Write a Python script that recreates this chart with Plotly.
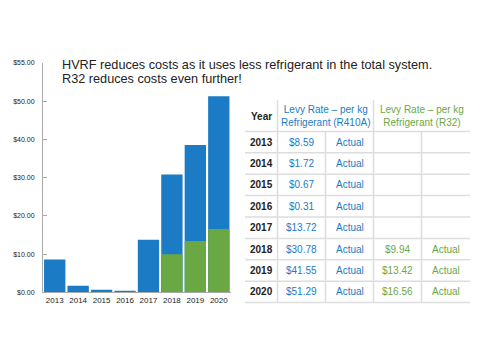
import plotly.graph_objects as go

years = ["2013", "2014", "2015", "2016", "2017", "2018", "2019", "2020"]
# bar heights as drawn in the chart
r410a_bar = [8.59, 1.72, 0.67, 0.31, 13.72, 30.78, 38.5, 51.29]
r32_bar = [None, None, None, None, None, 9.94, 13.42, 16.56]
# values printed in the table
r410a_rate = ["$8.59", "$1.72", "$0.67", "$0.31", "$13.72", "$30.78", "$41.55", "$51.29"]
r32_rate = ["", "", "", "", "", "$9.94", "$13.42", "$16.56"]
r410a_status = ["Actual"] * 8
r32_status = ["", "", "", "", "", "Actual", "Actual", "Actual"]
ytick_vals = [0, 10, 20, 30, 40, 50, 60]
ytick_text = ["$0.00", "$10.00", "$20.00", "$30.00", "$40.00", "$50.00", "$55.00"]
title_lines = ["HVRF reduces costs as it uses less refrigerant in the total system.",
               "R32 reduces costs even further!"]
hdr_year = "Year"
hdr_r410a = "Levy Rate – per kg<br>Refrigerant (R410A)"
hdr_r32 = "Levy Rate – per kg<br>Refrigerant (R32)"

W, H = 480, 362
BLUE = "#1b7bc4"
GREEN = "#6aa844"
GRID = "#dddddd"
FONT = "Liberation Sans, Arial, sans-serif"

def px(x):
    return x / W

def py(y):
    return 1 - y / H

fig = go.Figure()
fig.add_trace(go.Bar(x=years, y=r410a_bar, marker=dict(color=BLUE, line=dict(width=0)), name="R410A"))
fig.add_trace(go.Bar(x=years, y=r32_bar, marker=dict(color=GREEN, line=dict(width=0)), name="R32"))

shapes = []
annotations = []

def note(x, y, text, color, size=10, xanchor="center"):
    annotations.append(dict(x=px(x), y=py(y), xref="paper", yref="paper", text=text,
                            showarrow=False, xanchor=xanchor, yanchor="middle",
                            font=dict(family=FONT, size=size, color=color)))

# title
for i, t in enumerate(title_lines):
    note(60, 62 + 14 * i, t, "#222222", size=12.7, xanchor="left")

# table geometry
cols = [245, 277.5, 325.5, 373.5, 421.5, 470]
hy0, hy1 = 98, 130
rh = 21.8
nrows = len(years)
ybot = hy1 + rh * nrows

for i in range(nrows + 1):
    y = hy1 + rh * i
    shapes.append(dict(type="line", xref="paper", yref="paper", x0=px(cols[0]), x1=px(cols[-1]),
                       y0=py(y), y1=py(y), line=dict(color=GRID, width=1.5)))
for c in [cols[1], cols[3]]:
    shapes.append(dict(type="line", xref="paper", yref="paper", x0=px(c), x1=px(c),
                       y0=py(hy0), y1=py(ybot), line=dict(color=GRID, width=1.5)))
for c in [cols[2], cols[4]]:
    shapes.append(dict(type="line", xref="paper", yref="paper", x0=px(c), x1=px(c),
                       y0=py(hy1), y1=py(ybot), line=dict(color=GRID, width=1.5)))

# header
note((cols[0] + cols[1]) / 2, 114.5, "<b>" + hdr_year + "</b>", "#222222")
note((cols[1] + cols[3]) / 2, 114, hdr_r410a, BLUE)
note((cols[3] + cols[5]) / 2, 114, hdr_r32, GREEN)

for i, yr in enumerate(years):
    yc = hy1 + rh * (i + 0.5)
    cells = [
        ("<b>" + yr + "</b>", "#222222"),
        (r410a_rate[i], BLUE),
        (r410a_status[i], BLUE),
        (r32_rate[i], GREEN),
        (r32_status[i], GREEN),
    ]
    for j, (t, col) in enumerate(cells):
        if t:
            note((cols[j] + cols[j + 1]) / 2, yc, t, col)

fig.update_layout(
    width=W, height=H,
    margin=dict(l=0, r=0, t=0, b=0),
    paper_bgcolor="white", plot_bgcolor="white",
    barmode="overlay", bargap=0.09,
    showlegend=False,
    shapes=shapes,
    annotations=annotations,
    xaxis=dict(domain=[px(43), px(230.5)], type="category", range=[-0.5, 7.5],
               showline=True, linecolor="#aaaaaa", linewidth=1, ticks="",
               showgrid=False, tickfont=dict(family=FONT, size=8, color="#222222")),
    yaxis=dict(domain=[py(294), py(60)], range=[0, 60], tickvals=ytick_vals, ticktext=ytick_text,
               showline=True, linecolor="#aaaaaa", linewidth=1, ticks="inside", ticklen=4,
               tickcolor="#aaaaaa", showgrid=False, zeroline=False, ticklabelstandoff=6,
               tickfont=dict(family=FONT, size=7, color="#222222")),
)

fig.write_html("out.html", config={"displayModeBar": False},
               post_script="document.body.style.margin='0';")
